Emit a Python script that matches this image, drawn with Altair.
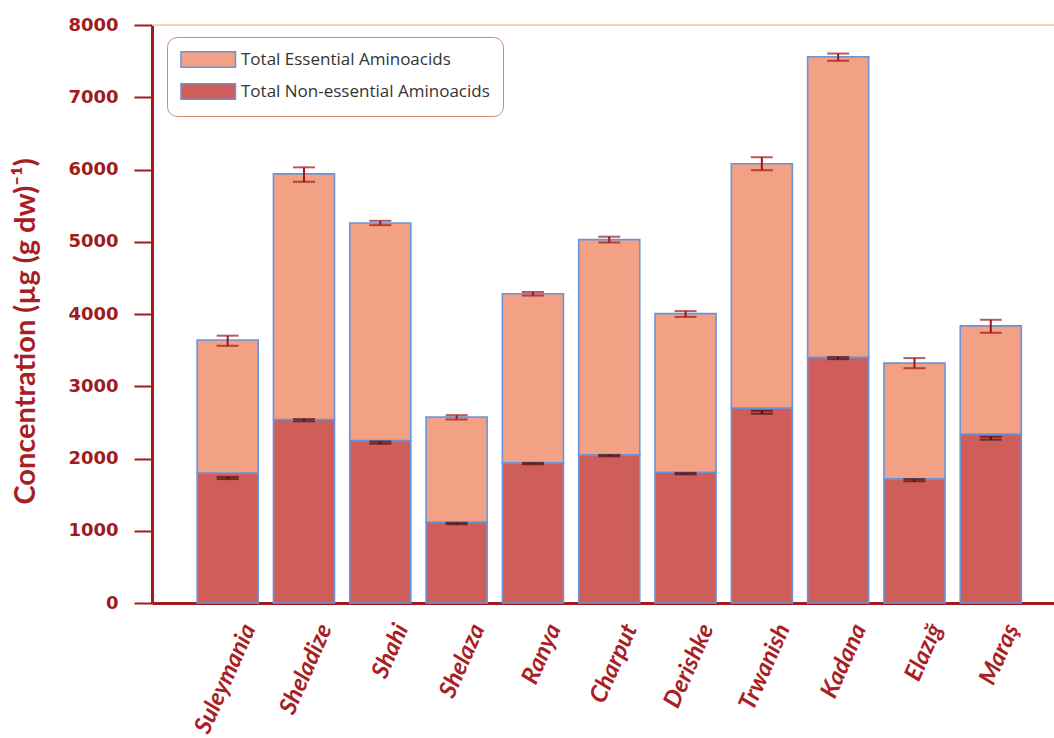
import altair as alt
import pandas as pd

sites = ["Suleymania", "Sheladize", "Shahi", "Shelaza", "Ranya", "Charput",
         "Derishke", "Trwanish", "Kadana", "Elazığ", "Maraş"]
non_essential = [1800, 2540, 2250, 1120, 1940, 2050, 1810, 2700, 3400, 1720, 2340]
essential = [1840, 3400, 3010, 1455, 2340, 2980, 2195, 3380, 4160, 1600, 1495]
total_err_center = [3630, 5930, 5260, 2570, 4280, 5030, 4000, 6080, 7555, 3320, 3830]
total_err = [70, 100, 30, 30, 25, 40, 40, 90, 50, 70, 90]
ne_err_center = [1730, 2530, 2220, 1100, 1930, 2040, 1790, 2640, 3390, 1700, 2280]
ne_err = [15, 15, 15, 10, 10, 10, 10, 20, 15, 15, 20]

ESS = "Total Essential Aminoacids"
NON = "Total Non-essential Aminoacids"

rows = []
for i, s in enumerate(sites):
    rows.append({"site": s, "group": NON, "value": non_essential[i], "ord": 0})
    rows.append({"site": s, "group": ESS, "value": essential[i], "ord": 1})
bars_df = pd.DataFrame(rows)

err_rows = []
for i, s in enumerate(sites):
    err_rows.append({"site": s, "kind": "total", "lo": total_err_center[i] - total_err[i],
                     "hi": total_err_center[i] + total_err[i]})
    err_rows.append({"site": s, "kind": "ne", "lo": ne_err_center[i] - ne_err[i],
                     "hi": ne_err_center[i] + ne_err[i]})
err_df = pd.DataFrame(err_rows)

dark = "#A01C1C"

xscale = alt.Scale(domain=sites, paddingInner=0.2, paddingOuter=0.51, align=0.58)
yscale = alt.Scale(domain=[0, 8000], nice=False)

x_enc = alt.X("site:N", scale=xscale, sort=sites, title=None,
              axis=alt.Axis(labelAngle=294, labelAlign="right", labelBaseline="middle",
                            labelPadding=22, labelOffset=22, ticks=False,
                            labelFont="Lato", labelFontSize=24, labelFontWeight="bold",
                            labelFontStyle="italic", labelColor="#A81E24",
                            domainColor=dark, domainWidth=3))

y_axis = alt.Axis(values=list(range(0, 8001, 500)), format="d",
                  labelExpr="datum.value % 1000 === 0 ? datum.label : ''",
                  tickSize={"condition": {"test": "datum.value % 1000 === 0", "value": 18}, "value": 12},
                  tickColor=dark, tickWidth=2, domainColor=dark, domainWidth=3,
                  labelFont="DejaVu Sans", labelFontSize=18, labelFontWeight="bold",
                  labelColor=dark, labelPadding=16, grid=False,
                  title="Concentration (µg (g dw)⁻¹)", titleFont="Lato",
                  titleFontSize=29, titleFontWeight="bold", titleColor="#A81E24",
                  titleX=-127, titleY=306, titleAngle=270, titleAlign="center",
                  titleBaseline="middle")

bars = alt.Chart(bars_df).mark_bar(stroke="#6A93D8", strokeWidth=1.6).encode(
    x=x_enc,
    y=alt.Y("value:Q", stack="zero", scale=yscale, axis=y_axis),
    color=alt.Color("group:N",
                    scale=alt.Scale(domain=[ESS, NON], range=["#F2A184", "#CF5E5A"]),
                    legend=alt.Legend(title=None, orient="none", legendX=15, legendY=12,
                                      symbolType="M-1,-0.9H5.4V0.9H-1Z",
                                      symbolSize=290, symbolStrokeColor="#6A93D8",
                                      symbolStrokeWidth=1.5, labelFont="Open Sans",
                                      labelFontSize=17, labelColor="#333333",
                                      labelLimit=400, labelOffset=42, rowPadding=9,
                                      padding=13, strokeColor="#C98A72", cornerRadius=10,
                                      fillColor="white")),
    order=alt.Order("ord:Q"),
)

err_color = alt.Color("kind:N", scale=alt.Scale(domain=["total", "ne"],
                                                range=["#9E1515", "#4E1010"]), legend=None)

err_rule = alt.Chart(err_df).mark_rule(strokeWidth=2).encode(
    x=alt.X("site:N", scale=xscale, sort=sites),
    y=alt.Y("lo:Q", scale=yscale),
    y2="hi:Q",
    color=err_color,
)
cap_lo = alt.Chart(err_df).mark_tick(size=22, thickness=2).encode(
    x=alt.X("site:N", scale=xscale, sort=sites),
    y=alt.Y("lo:Q", scale=yscale),
    color=err_color,
)
cap_hi = alt.Chart(err_df).mark_tick(size=22, thickness=2).encode(
    x=alt.X("site:N", scale=xscale, sort=sites),
    y=alt.Y("hi:Q", scale=yscale),
    color=err_color,
)

top_line = alt.Chart(pd.DataFrame({"v": [8000]})).mark_rule(color="#F5C9B0", strokeWidth=1.5).encode(
    y=alt.Y("v:Q", scale=yscale)
)

chart = alt.layer(top_line, bars, err_rule, cap_lo, cap_hi).resolve_scale(color="independent").properties(
    width=902, height=578,
    autosize=alt.AutoSizeParams(type="none"),
    padding={"left": 152, "top": 25, "right": 0, "bottom": 135},
).configure_view(stroke=None).configure(background="white")

chart.save("out.html", embed_options={"renderer": "svg", "actions": False})
